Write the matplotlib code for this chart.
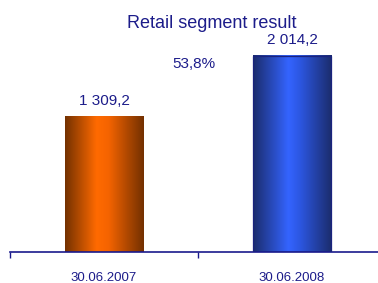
import numpy as np
import matplotlib
matplotlib.use("Agg")
import matplotlib.pyplot as plt
from matplotlib.colors import LinearSegmentedColormap

categories = ["30.06.2007", "30.06.2008"]
values = [1309.2, 2014.2]
value_labels = ["1 309,2", "2 014,2"]
growth_label = "53,8%"
title = "Retail segment result"

plt.rcParams['font.family'] = ['Liberation Sans', 'DejaVu Sans']
navy = '#1c1c8a'
axis_min, axis_max = -251, 2661

fig = plt.figure(figsize=(3.78, 2.83), dpi=100)
ax = fig.add_axes([10/378, 1 - 252/283, 376/378, 252/283])

cmaps = [
    LinearSegmentedColormap.from_list('o', [(0, '#733100'), (0.4, '#ff6a00'), (0.55, '#f56400'), (1, '#733000')]),
    LinearSegmentedColormap.from_list('b', [(0, '#1b2c6c'), (0.45, '#3464ff'), (0.6, '#2c56e0'), (1, '#1b2c6c')]),
]
edges = ['none', '#1a237e']
heights = [v - axis_min for v in values]
bars = ax.bar(range(len(categories)), heights, width=0.42, color='none', bottom=axis_min, zorder=2)
grad = np.linspace(0, 1, 256).reshape(1, -1)
for b, cm, ec in zip(bars, cmaps, edges):
    x0, y0 = b.get_x(), b.get_y()
    w, h = b.get_width(), b.get_height()
    ax.imshow(grad, cmap=cm, extent=[x0, x0 + w, y0, y0 + h], aspect='auto', zorder=2)
    if ec != 'none':
        ax.add_patch(plt.Rectangle((x0, y0), w, h, fill=False, edgecolor=ec, linewidth=0.9, zorder=3))
ax.set_xlim(-0.5, 1.5)
ax.set_ylim(axis_min, axis_max)

for i, (v, lab) in enumerate(zip(values, value_labels)):
    ax.annotate(lab, (i, v), xytext=(0, 6.5), textcoords='offset points', ha='center', va='bottom',
                fontsize=11, color=navy)

fig.text(172/378, 1 - 68/283, growth_label, ha='left', va='baseline', fontsize=11, color=navy)
fig.text(212/378, 1 - 28/283, title, ha='center', va='baseline', fontsize=13, color=navy)

for s in ['top', 'right', 'left']:
    ax.spines[s].set_visible(False)
ax.spines['bottom'].set_color('#1a1a8c')
ax.spines['bottom'].set_linewidth(1.2)
ax.set_yticks([])
ax.set_xticks([-0.5, 0.5, 1.5])
ax.set_xticklabels([])
ax.set_xticks([0, 1], minor=True)
ax.set_xticklabels(categories, minor=True)
ax.tick_params(axis='x', which='major', direction='out', length=4, color='#1a1a8c', width=1)
ax.tick_params(axis='x', which='minor', length=0, pad=14.5, labelsize=9.5, labelcolor=navy)
ax.patch.set_alpha(0)

fig.savefig('out.png', dpi=100)
